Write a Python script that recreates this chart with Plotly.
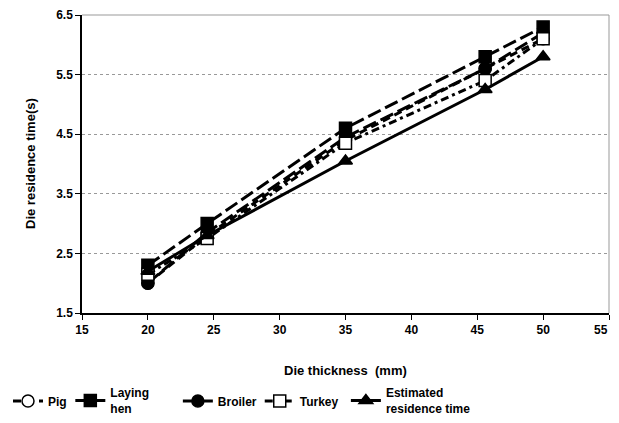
import plotly.graph_objects as go

thickness = [20, 24.5, 35, 45.6, 50]
pig = [2.0, 2.8, 4.4, 5.6, 6.1]
laying_hen = [2.3, 3.0, 4.6, 5.8, 6.3]
broiler = [2.0, 2.85, 4.45, 5.6, 6.2]
turkey = [2.15, 2.75, 4.35, 5.4, 6.1]
estimated = [2.2, 2.8, 4.05, 5.25, 5.8]

x_ticks = [15, 20, 25, 30, 35, 40, 45, 50, 55]
x_tick_text = ["15", "20", "25", "30", "35", "40", "45", "50", ""]
y_ticks = [1.5, 2.5, 3.5, 4.5, 5.5, 6.5]

series = [
    ("Pig", pig, "8px,5px", "circle", "white"),
    ("Laying<br>hen", laying_hen, "14px,5px", "square", "black"),
    ("Broiler", broiler, "14px,5px", "circle", "black"),
    ("Turkey", turkey, "8px,4px,3px,4px", "square", "white"),
    ("Estimated<br>residence time", estimated, "solid", "triangle-up", "black"),
]
legend_x = [-0.006, 0.102, 0.278, 0.412, 0.553]

W, H = 611, 407
font = "Liberation Sans, Arial, sans-serif"

fig = go.Figure()
legends = {}
for i, (name, ys, dash, sym, fill) in enumerate(series):
    key = "legend" if i == 0 else f"legend{i + 1}"
    fig.add_trace(go.Scatter(
        x=thickness, y=ys, name=name, mode="lines+markers",
        legend=key,
        line=dict(color="black", width=3, dash=dash),
        marker=dict(symbol=sym, size=12,
                    color=fill, line=dict(color="black", width=1.5)),
    ))
    legends[key] = dict(
        orientation="h", x=legend_x[i], xanchor="left", xref="container",
        y=1 - 393 / H, yanchor="middle", yref="container",
        font=dict(size=12, family=font, weight="bold"),
        itemwidth=30, valign="middle", bgcolor="rgba(0,0,0,0)",
    )

fig.update_layout(
    width=W, height=H,
    margin=dict(l=74, r=10, t=7, b=102, autoexpand=False),
    paper_bgcolor="white", plot_bgcolor="white",
    font=dict(family=font, size=12, color="black"),
    showlegend=True,
    xaxis=dict(range=[15, 55], tickvals=x_ticks, ticktext=x_tick_text,
               showgrid=False,
               showline=True, linecolor="black", linewidth=1.5,
               ticks="outside", ticklen=5, tickcolor="black",
               mirror=False, zeroline=False, ticklabeloverflow="allow",
               tickfont=dict(size=12, family=font, weight="bold")),
    yaxis=dict(range=[1.5, 6.5], tickvals=y_ticks, tickformat=".1f",
               showgrid=True, gridcolor="#999999", griddash="dot", gridwidth=1,
               showline=True, linecolor="black", linewidth=1.5,
               ticks="outside", ticklen=5, tickcolor="black",
               zeroline=False, ticklabeloverflow="allow",
               tickfont=dict(size=12, family=font, weight="bold")),
    annotations=[
        dict(text="55", xref="x", yref="paper", x=x_ticks[-1], y=0,
             xanchor="right", xshift=1, yanchor="top", yshift=-8,
             showarrow=False, font=dict(size=12, family=font, weight="bold")),
        dict(text="Die thickness  (mm)", xref="paper", yref="paper",
             x=0.5, y=0, yshift=-57, xanchor="center", yanchor="middle",
             showarrow=False, font=dict(size=13, family=font, weight="bold")),
        dict(text="Die residence time(s)", xref="paper", yref="paper",
             x=0, y=0.5, xshift=-52, xanchor="center", yanchor="middle",
             textangle=-90, showarrow=False,
             font=dict(size=13, family=font, weight="bold")),
    ],
    shapes=[
        dict(type="line", xref="paper", yref="paper", x0=0, x1=1, y0=1, y1=1,
             line=dict(color="#999999", width=1)),
        dict(type="line", xref="paper", yref="paper", x0=1, x1=1, y0=0, y1=1,
             line=dict(color="#999999", width=1)),
    ],
    **legends,
)

fig.write_html("out.html")
